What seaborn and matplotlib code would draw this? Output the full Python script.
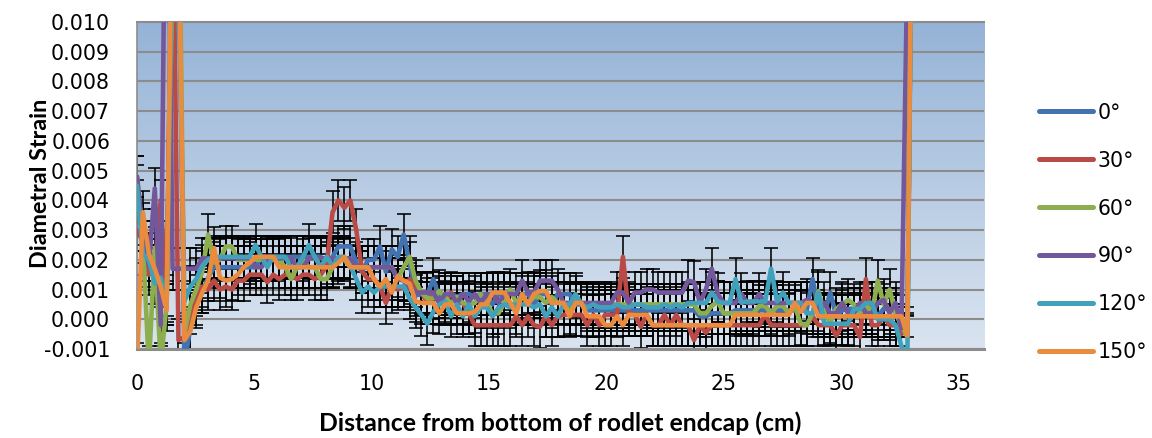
import numpy as np
import pandas as pd
import matplotlib
matplotlib.use("Agg")
import matplotlib.pyplot as plt
import seaborn as sns
from matplotlib.lines import Line2D
from matplotlib.colors import LinearSegmentedColormap

# ---------------- data (strain values in units of 1e-3) ----------------
sample_step_cm = 0.2525
angles = ["0°", "30°", "60°", "90°", "120°", "150°"]

strain_0_milli = [
    4.0, 3.2, 2.0, 2.2, 1.2, 0.8, 14, 13,
    -1.5, -0.3, 0.5, 0.9, 1.4, 1.75, 1.75, 1.75,
    1.75, 1.75, 1.75, 1.75, 1.75, 2.1, 2.1, 2.1,
    2.1, 2.1, 2.1, 2.1, 2.1, 2.1, 2.1, 2.1,
    1.9, 2.1, 2.45, 2.45, 2.45, 1.9, 1.6, 2.0,
    2.0, 2.45, 1.6, 2.35, 2.1, 2.85, 1.9, 0.8,
    0.85, 0.85, 1.35, 0.75, 0.85, 0.85, 0.75, 0.85,
    0.85, 0.75, 0.85, 0.85, 0.5, 0.85, 0.85, 0.5,
    0.5, 0.85, 0.85, 0.5, 0.85, 0.85, 0.5, 0.85,
    0.85, 0.85, 0.5, 0.5, 0.3, 0.3, 0.3, 0.3,
    0.3, 0.3, 0.3, 0.3, 0.3, 0.3, 0.3, 0.3,
    0.3, 0.3, 0.3, 0.3, 0.3, 0.3, 0.3, 0.1,
    0.1, 0.2, 0.2, 0.2, 0.2, 0.3, 0.3, 0.3,
    0.3, 0.3, 0.3, 0.3, 0.3, 0.3, 0.3, 0.3,
    0.3, 0.3, 1.35, 0.3, 0.2, 0.9, 0.1, 0.3,
    0.35, 0.35, 0.35, 0.35, 0.35, 0.1, 0.35, 0.35,
    0.35, -0.3, -0.5, 20,
]
strain_30_milli = [
    3.0, 2.6, 1.5, 1.8, 4.0, 0.6, 15, -0.7,
    -0.6, 0.2, 0.8, 1.1, 1.0, 1.3, 1.0, 1.1,
    1.0, 1.3, 1.3, 1.5, 1.5, 1.5, 1.25, 1.5,
    1.35, 1.5, 1.5, 1.35, 1.5, 1.5, 1.35, 1.5,
    1.8, 3.6, 4.0, 3.75, 4.0, 3.0, 1.6, 1.35,
    1.35, 1.1, 0.55, 1.1, 1.0, 1.1, 1.35, 1.1,
    0.9, 0.55, 0.9, 0.55, 0.55, 0.9, 0.55, 0.55,
    0.2, -0.2, -0.2, -0.2, -0.2, -0.2, -0.2, -0.2,
    0.1, -0.2, 0.1, -0.2, -0.25, 0.1, -0.2, 0.1,
    0.15, 0.15, 0.15, 0.15, -0.2, 0.15, -0.2, 0.15,
    0.15, 0.15, 2.1, 0.15, 0.15, -0.25, 0.15, -0.2,
    -0.2, 0.15, -0.2, 0.15, -0.2, -0.2, -0.7, -0.2,
    -0.45, -0.2, -0.2, -0.2, -0.2, -0.2, -0.2, -0.2,
    -0.2, -0.2, 0.15, -0.2, -0.2, -0.2, -0.2, -0.2,
    -0.2, -0.2, 0.1, -0.2, -0.2, -0.2, -0.55, -0.2,
    -0.2, -0.2, -0.6, 1.35, -0.2, -0.2, 0.1, -0.2,
    -0.2, -0.5, -0.3, 20,
]
strain_60_milli = [
    4.8, 2.6, -1.6, 2.4, -1.5, 0.5, 12, 16,
    -0.5, 0.5, 1.0, 1.6, 2.85, 1.9, 2.0, 2.45,
    2.45, 2.0, 2.0, 2.0, 2.0, 2.0, 2.0, 2.0,
    2.0, 1.75, 1.35, 1.75, 2.0, 1.75, 1.75, 1.35,
    1.35, 1.75, 2.0, 2.0, 1.75, 1.75, 1.75, 1.75,
    1.75, 1.75, 1.75, 1.75, 1.35, 1.75, 2.1, 1.3,
    0.9, 0.7, 0.7, 0.95, 0.75, 0.55, 0.75, 0.55,
    0.5, 0.55, 0.85, 0.55, 0.2, 0.2, 0.55, 1.0,
    0.55, 0.75, 0.55, 0.75, 0.75, 0.55, 0.75, 0.55,
    0.55, 0.2, 0.75, 0.55, 0.5, 0.5, 0.5, 0.5,
    0.5, 0.5, 0.5, 0.5, 0.5, 0.5, 0.5, 0.5,
    0.5, 0.5, 0.5, 0.5, 0.5, 0.5, 0.5, 0.2,
    0.2, 0.45, 0.6, 0.2, 0.2, 0.2, 0.2, 0.2,
    0.2, 0.45, 0.45, 0.2, 0.45, 0.45, 0.2, 0.45,
    -0.15, -0.2, 0.2, 0.95, 0.2, -0.1, 0.35, 0.5,
    0.65, 0.5, 0.2, 0.5, 0.2, 1.3, 0.5, 1.0,
    0.2, -0.2, -0.6, 20,
]
strain_90_milli = [
    4.8, 3.0, 1.8, 4.4, -0.2, 20, 1.7, 1.7,
    1.7, 1.7, 1.7, 2.05, 2.05, 2.05, 2.05, 2.05,
    2.05, 2.05, 2.05, 2.05, 1.75, 1.75, 2.05, 2.05,
    2.05, 2.05, 2.05, 1.75, 1.75, 2.05, 2.05, 2.05,
    2.05, 2.05, 2.05, 2.05, 2.05, 1.75, 1.75, 1.75,
    1.75, 1.75, 1.75, 1.75, 1.35, 1.3, 1.0, 0.9,
    0.9, 0.9, 0.9, 0.55, 0.85, 0.85, 0.55, 0.85,
    0.6, 0.85, 0.55, 0.85, 0.85, 0.55, 0.85, 0.85,
    0.85, 1.3, 0.9, 0.9, 1.3, 1.3, 1.3, 1.0,
    0.55, 0.55, 0.55, 0.55, 0.55, 0.55, 0.55, 0.55,
    0.55, 0.9, 0.9, 0.55, 0.9, 0.9, 1.0, 1.0,
    0.9, 0.9, 0.9, 0.9, 0.9, 1.3, 1.25, 0.55,
    1.0, 1.7, 0.85, 0.55, 0.55, 0.55, 0.85, 0.55,
    0.55, 0.85, 0.55, 0.55, 0.55, 0.55, 0.55, 0.55,
    0.55, 0.65, 0.55, 0.2, 0.55, 0.2, 0.2, 0.55,
    0.2, 0.2, 0.55, 0.2, 0.2, 0.55, 0.65, 0.2,
    0.55, -0.3, 12, 20,
]
strain_120_milli = [
    4.5, 2.2, 2.0, 1.2, 1.4, 0.5, 13, 12,
    0.6, 1.1, 1.35, 1.8, 2.0, 2.1, 2.1, 2.1,
    2.1, 2.1, 2.1, 2.1, 2.5, 2.1, 1.75, 2.1,
    2.1, 2.1, 1.75, 1.75, 2.1, 2.5, 2.1, 1.75,
    2.1, 1.8, 2.1, 2.1, 1.8, 1.35, 0.9, 1.1,
    0.9, 1.1, 1.1, 1.1, 1.1, 1.1, 0.7, 0.4,
    0.15, -0.15, 0.25, 0.5, 0.6, 0.1, 0.5, 0.1,
    0.5, 0.1, 0.4, 0.4, 0.1, 0.4, 0.5, 0.4,
    0.5, 0.5, 0.5, 0.4, 0.5, 0.1, 0.4, 0.1,
    0.5, 0.5, 0.85, 0.5, 0.4, 0.5, 0.4, 0.4,
    0.4, 0.5, 0.4, 0.4, 0.5, 0.5, 0.4, 0.4,
    0.4, 0.5, 0.4, 0.5, 0.4, 0.55, 0.55, 0.55,
    0.55, 0.9, 0.6, 0.55, 0.55, 1.35, 0.55, 0.6,
    0.6, 0.6, 0.6, 1.7, 0.6, 0.9, 0.55, 0.55,
    0.55, 0.2, 0.2, 0.9, -0.15, -0.15, -0.15, -0.15,
    -0.15, 0.35, 0.35, 0.55, 0.55, 0.0, 0.0, 0.0,
    -0.2, -0.9, -1.3, 20,
]
strain_150_milli = [
    -1.5, 3.6, 2.2, 1.7, 1.1, 0.3, 16, 14,
    -0.7, -0.4, 0.4, 0.9, 1.3, 2.4, 1.4, 1.3,
    1.35, 1.5, 1.75, 1.9, 2.1, 2.1, 2.1, 2.1,
    1.75, 1.75, 1.75, 1.75, 1.75, 1.75, 1.75, 1.75,
    1.75, 1.75, 1.9, 2.1, 1.75, 1.75, 1.75, 1.75,
    1.35, 1.1, 1.35, 0.9, 1.45, 1.3, 1.2, 0.6,
    0.55, 0.55, 0.55, 0.2, 0.5, 0.5, 0.2, 0.2,
    0.2, 0.25, 0.5, 0.5, 0.9, 0.9, 0.9, 0.55,
    0.2, 0.85, 0.5, 0.85, 0.95, 0.95, 0.55, 0.55,
    0.55, 0.1, 0.55, 0.55, 0.1, 0.1, 0.1, -0.2,
    -0.2, 0.1, -0.2, 0.15, 0.15, 0.15, 0.15, -0.2,
    -0.2, -0.2, -0.2, -0.2, -0.2, -0.2, -0.2, -0.2,
    -0.2, -0.2, -0.2, -0.2, -0.2, 0.15, 0.15, 0.15,
    0.15, 0.15, 0.15, 0.15, 0.15, 0.15, 0.15, 0.55,
    0.25, 0.55, 0.55, 0.1, 0.1, 0.1, 0.1, 0.1,
    0.1, 0.1, 0.1, 0.1, 0.1, 0.1, 0.1, 0.1,
    0.1, 0.1, -0.55, 20,
]
error_half_width = [0.0007, 0.0007, 0.0007, 0.0007, 0.0007, 0.0007]

x_ticks = [0, 5, 10, 15, 20, 25, 30, 35]
y_ticks = [-0.001, 0.000, 0.001, 0.002, 0.003, 0.004, 0.005,
           0.006, 0.007, 0.008, 0.009, 0.010]
y_tick_labels = ["-0.001", "0.000", "0.001", "0.002", "0.003", "0.004",
                 "0.005", "0.006", "0.007", "0.008", "0.009", "0.010"]

# ---------------- styling ----------------
colors = ["#4372B0", "#B94A46", "#8DAE4E", "#72589B", "#41A0BA", "#EA8B3E"]
series_milli = [strain_0_milli, strain_30_milli, strain_60_milli,
                strain_90_milli, strain_120_milli, strain_150_milli]

frames = []
for ang, vals in zip(angles, series_milli):
    v = np.array(vals, dtype=float) * 1e-3
    x = np.arange(len(v)) * sample_step_cm
    frames.append(pd.DataFrame({"x": x, "strain": v, "angle": ang}))
df = pd.concat(frames, ignore_index=True)

plt.rcParams["font.family"] = ["DejaVu Sans"]

fig = plt.figure(figsize=(11.52, 4.38), dpi=100)
ax = fig.add_axes([137 / 1152, 89 / 438, 847 / 1152, 327 / 438])

# gradient plot-area background
cmap = LinearSegmentedColormap.from_list("bg", ["#DAE4F0", "#95B3D7"])
grad = np.linspace(0, 1, 256).reshape(-1, 1)
ax.imshow(grad, extent=(0, 1, 0, 1), transform=ax.transAxes, origin="lower",
          cmap=cmap, aspect="auto", zorder=0, interpolation="bicubic")

# error bars
for ang, err in zip(angles, error_half_width):
    sub = df[df["angle"] == ang]
    ax.errorbar(sub["x"], sub["strain"], yerr=err, fmt="none", ecolor="black",
                elinewidth=1.15, capsize=5, capthick=1.15, zorder=2)

sns.lineplot(data=df, x="x", y="strain", hue="angle", hue_order=angles,
             palette=dict(zip(angles, colors)), linewidth=3.3, sort=False,
             estimator=None, legend=False, ax=ax, zorder=3,
             solid_joinstyle="round", solid_capstyle="round")

ax.set_xlim(0, 36.09)
ax.set_ylim(-0.001, 0.010)
ax.set_xticks(x_ticks)
ax.set_xticklabels([str(t) for t in x_ticks])
ax.set_yticks(y_ticks)
ax.set_yticklabels(y_tick_labels)
ax.tick_params(axis="both", length=0, labelsize=14.8, colors="black")
ax.tick_params(axis="y", pad=19.4)
ax.tick_params(axis="x", pad=18.2)

ax.set_axisbelow(True)
ax.yaxis.grid(True, color="#8c8c8c", linewidth=1.5)
ax.xaxis.grid(False)
ax.spines["right"].set_visible(False)
ax.spines["top"].set_color("#8c8c8c")
ax.spines["top"].set_linewidth(1.5)
ax.spines["left"].set_color("#8c8c8c")
ax.spines["left"].set_linewidth(1.2)
ax.spines["bottom"].set_color("#8c8c8c")
ax.spines["bottom"].set_linewidth(2.2)

ax.set_xlabel("Distance from bottom of rodlet endcap (cm)", family=["Lato", "DejaVu Sans"],
              fontweight="bold", fontsize=17.8)
ax.xaxis.set_label_coords(0.4994, -0.192)
ax.set_ylabel("Diametral Strain", family=["Lato", "DejaVu Sans"],
              fontweight="bold", fontsize=16.8)
ax.yaxis.set_label_coords(-0.101, 0.506)

handles = [Line2D([0], [0], color=c, lw=3.6, solid_capstyle="round") for c in colors]
fig.legend(handles, angles, loc="center left",
           bbox_to_anchor=(1039 / 1152, 1 - 232.5 / 438),
           frameon=False, fontsize=14.8, handlelength=2.65, handletextpad=0.2,
           labelspacing=1.36, borderpad=0, borderaxespad=0)

fig.savefig("out.png", dpi=100)
